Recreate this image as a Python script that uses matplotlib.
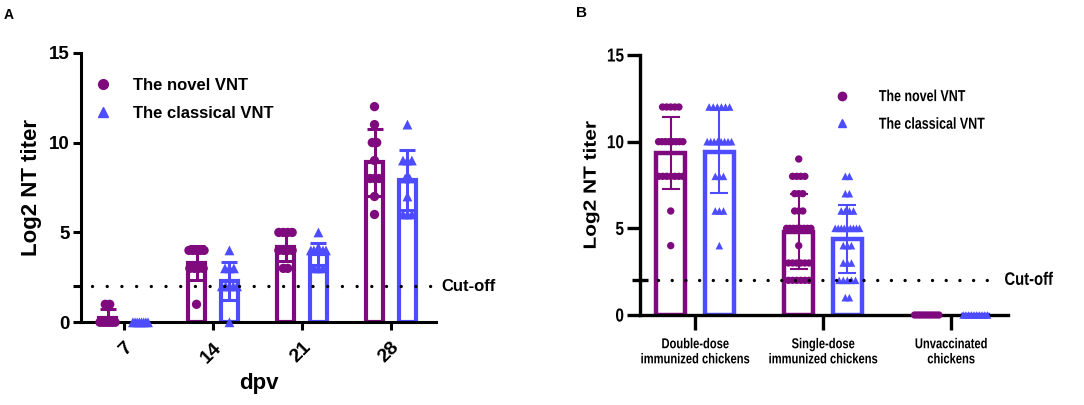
import numpy as np
import matplotlib
matplotlib.use("Agg")
import matplotlib.pyplot as plt
from matplotlib.lines import Line2D
from matplotlib.patheffects import AbstractPathEffect
from matplotlib.transforms import Affine2D

# ---------------- data ----------------
A_days = ['7', '14', '21', '28']
A_novel = [
    [1, 1, 0, 0, 0, 0, 0, 0],
    [4, 4, 4, 4, 4, 3, 3, 3, 3, 1],
    [5, 5, 5, 5, 4, 4, 4, 4, 3, 3],
    [12, 11, 10, 10, 9, 8, 8, 8, 7, 6],
]
A_classical = [
    [0, 0, 0, 0, 0, 0, 0, 0],
    [4, 3, 3, 3, 2, 2, 2, 2, 2, 0],
    [5, 4, 4, 4, 4, 4, 4, 3, 3, 3],
    [11, 9, 9, 9, 8, 8, 7, 6, 6, 6],
]

B_groups = ['Double-dose\nimmunized chickens', 'Single-dose\nimmunized chickens',
            'Unvaccinated\nchickens']
B_novel = [
    [12, 12, 12, 12, 12, 10, 10, 10, 10, 10, 10, 10, 10, 8, 8, 8, 8, 8, 8, 8, 6, 4],
    [9, 8, 8, 8, 8, 7, 7, 7, 6, 6, 6, 5, 5, 5, 5, 5, 5, 5, 5, 4,
     3, 3, 3, 3, 3, 3, 2, 2, 2, 2, 2, 2],
    [0, 0, 0, 0, 0, 0, 0, 0, 0, 0],
]
B_classical = [
    [12, 12, 12, 12, 12, 12, 10, 10, 10, 10, 10, 10, 10, 10, 8, 8, 8, 6, 6, 6, 4],
    [8, 8, 7, 7, 6, 6, 6, 6, 5, 5, 5, 5, 5, 5, 5, 5, 5, 4, 4, 4,
     3, 3, 3, 2, 2, 2, 2, 2, 1, 1],
    [0, 0, 0, 0, 0, 0, 0, 0, 0, 0],
]

series_labels = ['The novel VNT', 'The classical VNT']
cutoff = 2
yticks = [0, 5, 10, 15]

PURPLE = '#7E0A7E'
BLUE = '#4D4DFF'

plt.rcParams['font.family'] = ['Liberation Sans', 'DejaVu Sans']


class SqueezeX(AbstractPathEffect):
    """Horizontally condense drawn text (panel B uses a narrow face)."""
    def __init__(self, sx=0.78, anchor='center'):
        super().__init__()
        self.sx = sx
        self.anchor = anchor

    def draw_path(self, renderer, gc, tpath, affine, rgbFace=None):
        ext = tpath.get_extents(affine)
        if self.anchor == 'left':
            cx = ext.x0
        elif self.anchor == 'right':
            cx = ext.x1
        else:
            cx = 0.5 * (ext.x0 + ext.x1)
        aff = affine + Affine2D().translate(-cx, 0).scale(self.sx, 1).translate(cx, 0)
        renderer.draw_path(gc, tpath, aff, rgbFace)


fig = plt.figure(figsize=(10.84, 4.05), dpi=100)


def spread(vals, spacing, maxw):
    vals = np.asarray(vals, dtype=float)
    off = np.zeros(len(vals))
    for v in np.unique(vals):
        idx = np.where(vals == v)[0]
        k = len(idx)
        sp = spacing if k < 2 else min(spacing, maxw / (k - 1))
        off[idx] = (np.arange(k) - (k - 1) / 2) * sp
    return off


def draw_panel(ax, novel, classical, offset, width, spacing, maxw, lw, elw, cap, ms_o, ms_t):
    n = len(novel)
    x = np.arange(n)
    for data, sign, col, mk, ms in [(novel, -1, PURPLE, 'o', ms_o),
                                    (classical, 1, BLUE, '^', ms_t)]:
        means = [np.mean(d) for d in data]
        sds = [np.std(d, ddof=1) for d in data]
        xp = x + sign * offset
        ax.bar(xp, means, width, facecolor='white', edgecolor=col, linewidth=lw, zorder=2)
        for xi, d in zip(xp, data):
            ax.scatter(xi + spread(d, spacing, maxw), d, s=ms, marker=mk, color=col,
                       edgecolors='none', zorder=3, clip_on=False)
        ax.errorbar(xp, means, yerr=sds, fmt='none', ecolor=col, elinewidth=elw,
                    capsize=cap, capthick=elw, zorder=4)


# ---------------- Panel A ----------------
axA = fig.add_axes([81 / 1084, 1 - 322.3 / 405, 355 / 1084, 269.6 / 405])
draw_panel(axA, A_novel, A_classical, 0.185, 0.2, 0.05, 0.17, 3.0, 2.2, 5.5, 45, 50)
axA.set_xlim(-0.483, 3.506)
axA.set_ylim(0, 15)
axA.set_yticks(yticks)
axA.set_yticks([cutoff], minor=True)
axA.set_xticks(np.arange(len(A_days)))
axA.set_xticklabels(A_days, rotation=45, ha='right', va='top', rotation_mode='anchor',
                    fontsize=14, fontweight='bold')
for t in axA.get_yticklabels():
    t.set_fontsize(13.5)
    t.set_fontweight('bold')
axA.tick_params(axis='both', width=2.2, length=6)
axA.tick_params(axis='y', pad=2)
axA.tick_params(axis='y', which='minor', width=2.2, length=6)
axA.tick_params(axis='x', pad=6)
for s in ['top', 'right']:
    axA.spines[s].set_visible(False)
for s in ['left', 'bottom']:
    axA.spines[s].set_linewidth(2.2)
axA.set_ylabel('Log2 NT titer', fontsize=16, fontweight='bold', labelpad=5)
axA.set_xlabel('dpv', fontsize=16, fontweight='bold', labelpad=5)
axA.axhline(cutoff, xmin=0.03, xmax=0.99, color='black', lw=2.4,
            ls=(0, (0.01, 4.4)), dash_capstyle='round', zorder=5)
axA.text(1.014, cutoff, 'Cut-off', transform=axA.get_yaxis_transform(),
         fontsize=12, fontweight='bold', va='center', ha='left')
hA = [Line2D([], [], marker='o', ls='none', color=PURPLE, markersize=7),
      Line2D([], [], marker='^', ls='none', color=BLUE, markersize=7)]
axA.legend(hA, series_labels, loc='upper left', bbox_to_anchor=(94.6 / 1084, 0.8066),
           bbox_transform=fig.transFigure, frameon=False, handlelength=1.0,
           handletextpad=1.3, borderpad=0, borderaxespad=0, labelspacing=0.74,
           prop={'size': 12, 'weight': 'bold'})
fig.text(4 / 1084, 1 - 15 / 405, 'A', fontsize=10, fontweight='bold', va='center')

# ---------------- Panel B ----------------
SQ = 0.78
axB = fig.add_axes([640 / 1084, 1 - 315 / 405, 368 / 1084, 260 / 405])
draw_panel(axB, B_novel, B_classical, 0.19, 0.224, 0.032, 0.19, 3.2, 1.5, 6.5, 28, 30)
axB.set_xlim(-0.43, 2.445)
axB.set_ylim(0, 15)
axB.set_yticks(yticks)
axB.set_yticks([cutoff], minor=True)
axB.set_xticks(np.arange(len(B_groups)))
axB.set_xticklabels(B_groups, fontsize=10.3, fontweight='bold', linespacing=1.1)
for t in axB.get_xticklabels():
    t.set_path_effects([SqueezeX(SQ, 'center')])
for t in axB.get_yticklabels():
    t.set_fontsize(13.5)
    t.set_fontweight('bold')
    t.set_path_effects([SqueezeX(0.82, 'right')])
axB.tick_params(axis='y', width=2.4, length=9.5, pad=2)
axB.tick_params(axis='y', which='minor', width=2.4, length=11, direction='inout')
axB.tick_params(axis='x', width=2.4, length=11, pad=5)
for s in ['top', 'right']:
    axB.spines[s].set_visible(False)
for s in ['left', 'bottom']:
    axB.spines[s].set_linewidth(2.4)
ylB = axB.set_ylabel('Log2 NT titer', fontsize=15, fontweight='bold', labelpad=2)
ylB.set_path_effects([SqueezeX(0.85, 'center')])
axB.axhline(cutoff, xmin=0.05, xmax=0.97, color='black', lw=2.4,
            ls=(0, (0.01, 4.1)), dash_capstyle='round', zorder=5)
cB = axB.text(0.99, cutoff, 'Cut-off', transform=axB.get_yaxis_transform(),
              fontsize=13, fontweight='bold', va='center', ha='left')
cB.set_path_effects([SqueezeX(0.82, 'left')])
hB = [Line2D([], [], marker='o', ls='none', color=PURPLE, markersize=6),
      Line2D([], [], marker='^', ls='none', color=BLUE, markersize=6)]
legB = axB.legend(hB, series_labels, loc='upper left', bbox_to_anchor=(834.4 / 1084, 0.78),
                  bbox_transform=fig.transFigure, frameon=False, handlelength=1.0,
                  handletextpad=1.78, borderpad=0, borderaxespad=0, labelspacing=0.79,
                  prop={'size': 11.5, 'weight': 'bold'})
for t in legB.get_texts():
    t.set_path_effects([SqueezeX(SQ, 'left')])
fig.text(576 / 1084, 1 - 13 / 405, 'B', fontsize=11, fontweight='bold', va='center')

fig.savefig('out.png', dpi=100)
